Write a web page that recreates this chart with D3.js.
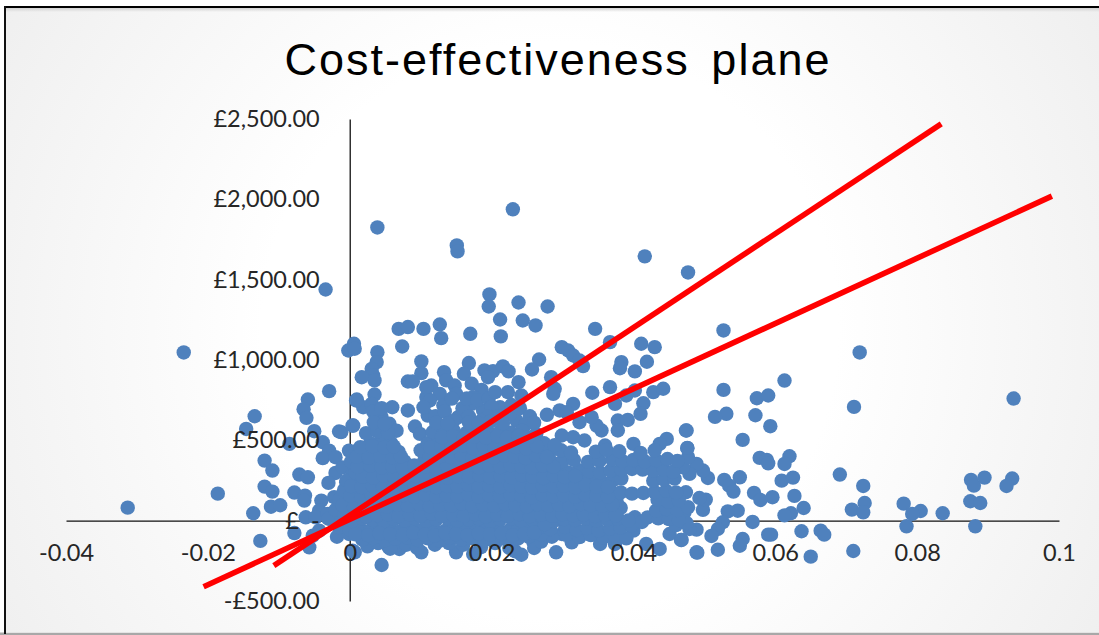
<!DOCTYPE html>
<html><head><meta charset="utf-8">
<script src="https://cdn.jsdelivr.net/npm/d3@7"></script>
<style>html,body{margin:0;padding:0;background:#fff;overflow:hidden}svg{display:block}</style>
</head><body><div id="chart"></div>
<script>
const chartTitle = "Cost-effectiveness plane";
const xTicks = [-0.04,-0.02,0,0.02,0.04,0.06,0.08,0.1];
const xTickLabels = ["-0.04","-0.02","0","0.02","0.04","0.06","0.08","0.1"];
const yTicks = [-500,0,500,1000,1500,2000,2500];
const yTickLabels = ["-£500.00","£  -","£500.00","£1,000.00","£1,500.00","£2,000.00","£2,500.00"];
// incremental QALY (thousandths) and incremental cost (£)
const farPoints = [[-31.3,81],[-23.4,1047],[-18.6,168],[-3.4,1439],[3.9,1825],[15.1,1713],[15.2,1676],[23,1938],[41.6,1645],[47.7,1545],[19.7,1408],[19.6,1333],[23.8,1358],[27.9,1333],[21.2,1252],[24.4,1246],[26.2,1215],[52.7,1184]];
const rightPoints = [[71.9,1047],[61.3,872],[71.1,708],[93.6,760],[52.7,814],[57.4,762],[59,779],[53.1,665],[51.5,646],[57.2,656],[59.3,588],[47.4,561],[55.4,503],[47.6,451],[57.8,391],[58.8,378],[62,401],[61.3,353],[59,357],[69.1,287],[72.4,216],[55,270],[52.8,254],[53.5,218],[54.1,181],[60.9,249],[62.5,268],[87.6,254],[88,218],[89.5,268],[93.4,262],[92.6,216],[57,173],[57.9,129],[59.6,146],[62.7,154],[72.6,110],[78.1,106],[80.5,60],[79.3,42],[83.6,46],[87.5,121],[88.9,110],[64,79],[62.2,46],[61.3,33],[70.8,69],[72.4,52],[54.7,62],[53.3,58],[49.8,67],[50.2,131],[49.3,141],[56.8,-8],[52.6,-10],[51.9,-52],[51,-95],[78.5,-35],[88.2,-35],[59,-87],[59.4,-87],[63.7,-66],[66.4,-62],[66.9,-87],[55.4,-114],[55,-156],[51.9,-181],[49,-199],[65,-224],[71,-189],[48.9,-56],[47.9,-52],[46.7,-120],[50.5,266],[49.8,312],[48.9,353],[47.9,291],[47,332],[47.4,177],[47.2,52],[47.7,395]];
const upperPoints = [[34.6,1194],[6.9,1194],[8.2,1205],[10.4,1194],[12.7,1221],[12.9,1136],[17,1163],[21.3,1147],[7.4,1084],[0.6,1101],[-0.2,1059],[0.7,1070],[3.9,1049],[3.8,987],[3.1,945],[3.3,904],[3.5,873],[1.7,893],[10.1,991],[10.1,918],[8.2,866],[8.9,866],[11.5,841],[13.3,924],[13.6,873],[14.8,841],[16.8,981],[16.1,914],[17.2,852],[18.6,814],[19,935],[20.2,931],[19.5,893],[21.6,960],[22.4,929],[23.8,862],[26.7,1003],[25.7,941],[28.4,893],[22.3,800],[24.2,779],[28.9,821],[28.7,789],[29.9,1080],[30.8,1059],[31.5,1028],[32.4,997],[32.9,962],[36.7,1111],[41.1,1101],[43,1080],[38.3,987],[38.1,949],[40.2,929],[41.9,989],[36.7,831],[34.2,796],[40.2,810],[39,779],[42.8,800],[44.2,821],[37.4,727],[41.4,731],[41,665],[37.8,623],[39.2,627],[37.8,561],[47.5,561],[47.6,453],[44.7,509],[43.7,478],[40,478],[36,468],[35.5,561],[34.8,592],[34.1,644],[32.4,613],[31.5,727],[29.6,686],[27.8,659],[30.6,675],[33.1,499],[31.5,519],[29.9,530],[26.3,540],[23.5,623],[22.6,665],[17.4,769],[15,789],[12.7,789],[10.8,769],[11,654],[8.2,686],[6,706],[3.5,785],[1,754],[1.9,706],[3.1,727],[0.5,592],[-1.2,551],[9.2,586],[9.9,540],[13.2,717],[15.3,644],[17.2,727],[18.8,686],[21.2,706],[4.5,644],[4.7,540],[5.6,603],
[10.8,831],[11.3,748],[10.4,706],[12.1,650],[13.4,680],[14.4,760],[15.9,700],[16.5,760],[18,750],[19.6,760],[20.5,800],[20,710],[19.5,650],[21,650],[22.8,720],[24,700],[25.4,650],[24.8,600],[26,610],[16.8,650],[18.5,620],[14.6,620],[4,560],[5.2,590],[6.6,560],[3.3,680],[4.5,700]];
const lowerPoints = [[4.5,-276],[0.7,-197],[7,-176],[10.1,-197],[15,-197],[17.4,-208],[24.2,-212],[29.1,-197],[31.3,-135],[29.9,-83],[25.9,-135],[35.3,-145],[37.4,-145],[40.2,21],[40,-62],[41.8,-145],[43.7,-176],[45.1,-83],[46.8,-120],[48.9,-197],
[2.5,-160],[5.5,-165],[8,-150],[9.5,-170],[12,-150],[14,-140],[16,-150],[18.5,-165],[20.5,-140],[22.5,-170],[23.3,-190],[26,-170],[27,-130],[5.7,-175],[4,-140],[28.5,-100],[30.5,-88],[32.4,-102],[34,-90],[35.8,-104],[37.3,-92],[39,-110]];
const leftPoints = [[-2.9,806],[-5.9,754],[-6.5,694],[-6.1,640],[-13.4,650],[-14.6,571],[-5,557],[-1.5,555],[-8.5,478],[-3.8,488],[-2.9,436],[-3.8,389],[-12,374],[-10.9,312],[-7.1,287],[-5.9,270],[-2,297],[-3,235],[-0.5,239],[-12,212],[-10.9,181],[-7.8,175],[-6.3,156],[-6.4,125],[-4,125],[-2.2,146],[-0.5,125],[-11.1,87],[-9.8,96],[-4.3,63],[-13.6,46],[-6.2,21],[-4.8,21],[-3.1,42],[-1,83],[-7.8,-77],[-5.2,-93],[-5.7,-166],[-12.6,-126],[-4.3,-62],[-1.8,-100],[0.4,-187],[-0.1,-83],[-0.1,436],[-2,395],[-1,332],[0.4,291],[0.4,592],[0.9,748]];
const corePoints = [
[1.8,-118],[3.3,-108],[5,-122],[6.4,-112],[8.2,-105],[9.6,-120],[11,-110],[12.7,-125],[14.1,-105],[15.8,-118],[17.3,-110],[19,-122],[20.6,-108],[22.1,-118],[23.7,-112],[25.2,-100],[27,-85],
[-1.5,-40],[0,-55],[1.4,-48],[2.9,-60],[4.4,-45],[5.8,-52],[7.3,-62],[8.9,-44],[10.3,-58],[11.8,-50],[13.4,-64],[14.8,-42],[16.3,-55],[17.9,-60],[19.3,-45],[20.9,-52],[22.4,-63],[23.8,-44],[25.4,-55],[26.9,-40],[28.3,-52],[30.4,-40],[32,-58],[33.5,-46],[35.1,-62],[36.7,-50],[38.2,-44],[39.7,-30],[41.2,-8],[46,-28],[47.5,-15],
[-3,12],[-1.2,8],[0.3,-2],[1.8,14],[3.3,4],[4.8,-4],[6.2,10],[7.8,2],[9.2,15],[10.8,-2],[12.2,8],[13.8,14],[15.2,0],[16.8,6],[18.2,14],[19.8,-4],[21.2,8],[22.8,12],[24.2,0],[25.8,6],[27.2,14],[28.8,-2],[30.2,10],[31.8,4],[33.3,12],[34.8,0],[36.3,8],[37.8,14],[39.3,2],[42,20],[43.5,14],[45,10],[46.4,4],
[-2,68],[-0.4,60],[1,72],[2.5,64],[4,58],[5.5,70],[7,62],[8.5,74],[10,60],[11.5,68],[13,64],[14.5,76],[16,60],[17.5,70],[19,62],[20.5,74],[22,66],[23.5,58],[25,72],[26.5,64],[28,70],[29.5,60],[31,74],[32.5,66],[34,60],[35.5,72],[37,66],[38.2,80],[43.2,62],[44.7,72],[46.2,66],[47.7,84],
[-1.5,128],[0,120],[1.5,132],[3,124],[4.5,118],[6,130],[7.5,122],[9,134],[10.5,120],[12,128],[13.5,124],[15,136],[16.5,120],[18,130],[19.5,122],[21,134],[22.5,126],[24,118],[25.5,132],[27,124],[28.5,130],[30,120],[31.5,134],[33,126],[34.5,120],[36,132],[37.6,126],[43.4,130],[44.9,118],[46.4,128],
[-0.8,190],[0.7,180],[2.2,192],[3.7,184],[5.2,178],[6.7,190],[8.2,182],[9.7,194],[11.2,180],[12.7,188],[14.2,184],[15.7,196],[17.2,180],[18.7,190],[20.2,182],[21.7,194],[23.2,186],[24.7,178],[26.2,192],[27.7,184],[29.2,190],[30.7,180],[32.2,194],[33.7,186],[35.2,180],[36.7,192],[38.2,176],[39.8,168],[41.4,172],[43,178],[44.6,186],[46,176],
[-0.4,250],[1.1,240],[2.6,252],[4.1,244],[5.6,238],[7.1,250],[8.6,242],[10.1,254],[11.6,240],[13.1,248],[14.6,244],[16.1,256],[17.6,240],[19.1,250],[20.6,242],[22.1,254],[23.6,246],[25.1,238],[26.6,252],[28.1,244],[29.6,250],[31.1,240],[32.6,254],[34.1,246],[35.6,240],[37.1,252],[38.3,262],[42.8,248],[44.3,256],[45.8,262],
[0.8,300],[2.3,312],[3.8,304],[5.3,298],[6.8,310],[8.3,302],[9.8,314],[11.3,300],[12.8,308],[14.3,304],[15.8,316],[17.3,300],[18.8,310],[20.3,302],[21.8,314],[23.3,306],[24.8,298],[26.3,312],[27.8,304],[29.3,310],[30.8,300],[32.3,314],[33.8,306],[35.3,300],[36.8,312],[38.3,318],[39.8,322],[41.3,318],[42.8,310],[44.3,316],[45.6,304],
[0.2,368],[1.7,360],[3.2,372],[4.7,364],[6.2,358],[7.7,370],[10.5,372],[12,360],[13.5,368],[15,364],[16.5,376],[18,360],[19.5,370],[21,362],[22.5,374],[24,366],[25.5,358],[27,372],[28.5,364],[30,370],[31.6,378],[33.6,366],[35.2,372],[37,380],[38.4,372],[40,378],[41.6,368],[43.2,376],[44.8,384],[46.2,372],
[0.9,432],[2.2,422],[3.7,434],[6.9,428],[10,438],[11.5,422],[13,430],[14.5,426],[16,438],[17.5,422],[19,432],[20.5,424],[22,436],[23.5,428],[25,420],[26.5,434],[28.2,426],[29.8,438],[31.2,424],[34.7,430],[36.2,440],[38,432],[41,422],[43,438],
[2.9,482],[4.4,494],[5.8,486],[11,482],[12.5,490],[14,486],[15.5,498],[17,482],[18.5,492],[20,484],[21.5,496],[23,488],[24.5,480],[26,494],[27.4,482],[28.9,470],
[2.3,545],[3.9,556],[5.4,548],[11.7,552],[13.2,546],[14.7,558],[16.5,548],[18,552],[19.7,544],[21.2,556],[22.7,548],[24.3,560],
[3.4,612],[4.9,602],[12.2,610],[13.8,604],[16.8,612],[18.2,604],[19.8,616],[21.6,606]
];
const coreFill = [
[0.8,-85],[2.6,-90],[4.2,-78],[5.7,-84],[7.5,-88],[9,-76],[10.6,-86],[12,-92],[13.5,-78],[15,-84],[16.6,-90],[18.2,-80],[19.8,-86],[21.4,-78],[23,-90],[24.6,-82],[26,-74],[27.5,-22],
[-0.8,30],[0.8,38],[2.3,26],[3.9,34],[5.4,40],[6.9,28],[8.5,36],[10,30],[11.6,42],[13,28],[14.6,36],[16.1,30],[17.7,40],[19.2,26],[20.8,36],[22.3,30],[23.9,40],[25.4,28],[27,36],[28.6,30],[30,40],[31.5,34],[33,38],[34.6,28],[36,36],[37.5,32],
[-1,96],[0.6,90],[2.1,102],[3.6,94],[5.2,88],[6.7,100],[8.2,92],[9.8,104],[11.3,90],[12.8,98],[14.3,94],[15.8,106],[17.3,90],[18.8,100],[20.4,92],[21.9,104],[23.4,96],[25,88],[26.5,102],[28,94],[29.5,100],[31,90],[32.6,104],[34,96],[35.6,92],[37,100],
[0.1,155],[1.6,148],[3.1,160],[4.6,152],[6.1,146],[7.6,158],[9.1,150],[10.7,162],[12.2,148],[13.7,156],[15.2,152],[16.7,164],[18.2,148],[19.7,158],[21.2,150],[22.7,162],[24.2,154],[25.7,146],[27.2,160],[28.7,152],[30.2,158],[31.8,148],[33.2,162],[34.8,154],[36.4,150],
[0.2,215],[1.7,208],[3.2,220],[4.7,212],[6.2,206],[7.7,218],[9.2,210],[10.7,222],[12.2,208],[13.7,216],[15.2,212],[16.7,224],[18.2,208],[19.7,218],[21.2,210],[22.7,222],[24.2,214],[25.7,206],[27.2,220],[28.7,212],[30.2,218],[31.8,208],[33.2,222],[34.8,214],[36.4,210],
[1.8,275],[3.3,268],[4.8,280],[6.3,272],[7.8,266],[9.3,278],[10.8,270],[12.3,282],[13.8,268],[15.3,276],[16.8,272],[18.3,284],[19.8,268],[21.3,278],[22.8,270],[24.3,282],[25.8,274],[27.3,266],[28.8,280],[30.3,272],[31.8,278],
[1.1,335],[2.9,342],[4.5,332],[6,340],[7.5,330],[9.1,344],[10.7,336],[12.2,330],[13.7,342],[15.2,336],[16.7,346],[18.2,332],[19.7,342],[21.2,334],[22.7,346],[24.2,338],[25.7,330],[27.2,344],[28.7,336],
[1,398],[2.7,392],[4.3,402],[6,394],[7.2,400],[11.3,394],[12.8,402],[14.3,396],[15.8,408],[17.3,392],[18.8,402],[20.3,394],[21.8,406],[23.3,398],[24.8,390],[26.3,404],[27.8,396],
[1.5,458],[3.2,464],[4.9,456],[6.2,462],[11.4,456],[12.9,462],[14.4,456],[15.9,468],[17.4,452],[18.9,462],[20.4,454],[21.9,466],[23.4,458],[24.9,450],[26.4,464],
[13,520],[14.6,526],[16.1,518],[17.6,524],[19.2,516],[20.8,526],[22.2,518],[23.8,528],[25.2,520]
];
const wtpLow = [[-20.6,-411],[99,2020]];
const wtpHigh = [[-10.7,-280],[83.4,2470]];

const W = 1099, H = 635;
const svg = d3.select("#chart").append("svg").attr("width",W).attr("height",H);
const defs = svg.append("defs");
const grad = defs.append("radialGradient").attr("id","bg").attr("gradientUnits","userSpaceOnUse")
  .attr("cx",550).attr("cy",330).attr("r",640);
grad.append("stop").attr("offset","45%").attr("stop-color","#ffffff");
grad.append("stop").attr("offset","100%").attr("stop-color","#efefef");
const edge = defs.append("linearGradient").attr("id","edge").attr("x1",0).attr("x2",0).attr("y1",0).attr("y2",1);
edge.append("stop").attr("offset","0%").attr("stop-color","#d2d2d2");
edge.append("stop").attr("offset","100%").attr("stop-color","#d2d2d2").attr("stop-opacity",0);

svg.append("rect").attr("x",5).attr("y",7).attr("width",W-5).attr("height",626).attr("fill","url(#bg)");
svg.append("rect").attr("x",6).attr("y",8).attr("width",W-6).attr("height",4).attr("fill","url(#edge)");
svg.append("rect").attr("x",0).attr("y",632.5).attr("width",W).attr("height",2.5).attr("fill","#a8a8a8");
svg.append("rect").attr("x",5).attr("y",632).attr("width",W-5).attr("height",1).attr("fill","#e4e4e4");
svg.append("rect").attr("x",5).attr("y",6).attr("width",W-5).attr("height",2).attr("fill","#000");
svg.append("rect").attr("x",4).attr("y",6).attr("width",2).attr("height",628).attr("fill","#111");

const x = d3.scaleLinear().domain([-0.04,0.1]).range([66,1059]);
const y = d3.scaleLinear().domain([-500,2500]).range([601,119]);

const axisX = d3.axisBottom(x).tickValues(xTicks).tickSize(0);
const axisY = d3.axisLeft(y).tickValues(yTicks).tickSize(0);
const lineAxes = svg.append("g");
lineAxes.append("g").attr("transform",`translate(0,${y(0)})`).call(axisX.tickFormat(""))
  .call(g=>g.select(".domain").attr("stroke","#111").attr("stroke-width",1.3));
lineAxes.append("g").attr("transform",`translate(${x(0)},0)`).call(axisY.tickFormat(""))
  .call(g=>g.select(".domain").attr("stroke","#111").attr("stroke-width",1.3));

const allPoints = [].concat(farPoints,rightPoints,upperPoints,lowerPoints,leftPoints,corePoints,coreFill);
svg.append("g").selectAll("circle").data(allPoints).join("circle")
  .attr("cx",d=>x(d[0]/1000)).attr("cy",d=>y(d[1])).attr("r",7.2).attr("fill","#4f81bd");

const line = d3.line().x(d=>x(d[0]/1000)).y(d=>y(d[1]));
svg.append("g").selectAll("path").data([wtpLow,wtpHigh]).join("path")
  .attr("d",line).attr("fill","none").attr("stroke","#ff0000").attr("stroke-width",5.6);

const labelFont = "Lato, 'Open Sans', sans-serif";
const lx = svg.append("g").attr("transform",`translate(0,${y(0)})`)
  .call(d3.axisBottom(x).tickValues(xTicks).tickSize(0).tickPadding(24).tickFormat((d,i)=>xTickLabels[i]));
const ly = svg.append("g").attr("transform",`translate(${x(0)},0)`)
  .call(d3.axisLeft(y).tickValues(yTicks).tickSize(0).tickPadding(30).tickFormat((d,i)=>yTickLabels[i]));
[lx,ly].forEach(g=>{g.select(".domain").remove();
  g.selectAll("text").attr("font-family",labelFont).attr("font-size",23.5).attr("fill","#262626").style("white-space","pre");});

svg.append("text").attr("x",558).attr("y",75).attr("text-anchor","middle")
  .attr("font-family","'Liberation Sans', Arial, sans-serif").attr("font-size",45)
  .attr("letter-spacing",2).attr("word-spacing",7).attr("fill","#000").text(chartTitle);
</script></body></html>
